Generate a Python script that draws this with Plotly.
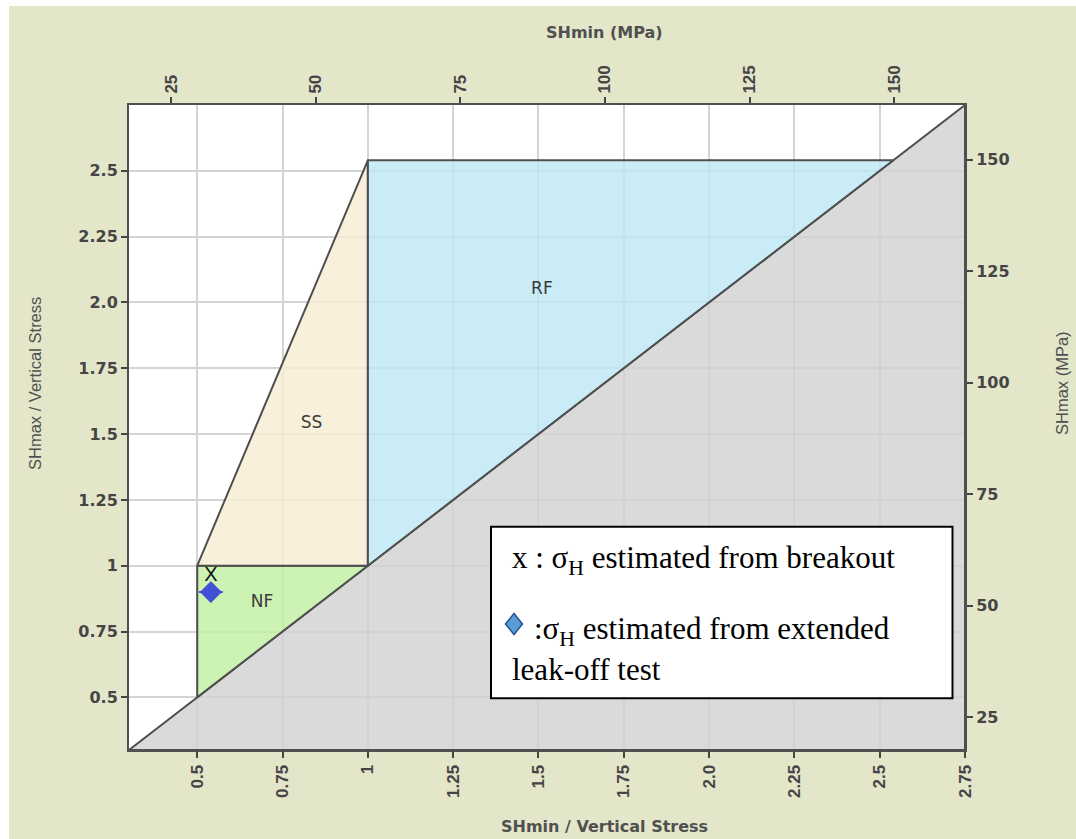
import plotly.graph_objects as go

# Vertical stress used to convert ratios to MPa on the secondary axes
SV_MPA = 59.0

# Axis extent in stress-ratio units
AX_MIN, AX_MAX = 0.3, 2.75

# Stress-regime polygons (SHmin/Sv, SHmax/Sv)
nf_x = [0.5, 0.5, 1.0, 0.5]
nf_y = [0.5, 1.0, 1.0, 0.5]
ss_x = [0.5, 1.0, 1.0, 0.5]
ss_y = [1.0, 2.54, 1.0, 1.0]
rf_x = [1.0, 1.0, 2.54, 1.0]
rf_y = [1.0, 2.54, 2.54, 1.0]
lower_x = [0.3, 2.75, 2.75, 0.3]
lower_y = [0.3, 0.3, 2.75, 0.3]

regime_labels = ["NF", "SS", "RF"]
label_x = [0.69, 0.835, 1.51]
label_y = [0.86, 1.54, 2.05]

# Measured horizontal stress estimates
breakout_x = [0.54]
breakout_y = [0.96]
lot_x = [0.54]
lot_y = [0.90]
lot_err = [0.035]

# Tick values / labels
ratio_x_ticks = [0.5, 0.75, 1.0, 1.25, 1.5, 1.75, 2.0, 2.25, 2.5, 2.75]
ratio_x_text = ["0.5", "0.75", "1", "1.25", "1.5", "1.75", "2.0", "2.25", "2.5", "2.75"]
ratio_y_ticks = [0.5, 0.75, 1.0, 1.25, 1.5, 1.75, 2.0, 2.25, 2.5]
ratio_y_text = ["0.5", "0.75", "1", "1.25", "1.5", "1.75", "2.0", "2.25", "2.5"]
mpa_ticks = [25, 50, 75, 100, 125, 150]

PAGE_BG = "#e3e6c9"
EDGE = "#4f4f4f"
TXT = "#454545"

fig = go.Figure()


def region(xs, ys, fill):
    fig.add_trace(go.Scatter(
        x=xs, y=ys, mode="lines", fill="toself", fillcolor=fill,
        line=dict(color=EDGE, width=2), hoverinfo="skip", showlegend=False,
    ))


region(lower_x, lower_y, "rgba(209,209,209,0.8)")
region(nf_x, nf_y, "rgba(192,240,161,0.8)")
region(ss_x, ss_y, "rgba(246,236,209,0.8)")
region(rf_x, rf_y, "rgba(187,231,244,0.8)")

# regime names
fig.add_trace(go.Scatter(
    x=label_x, y=label_y, mode="text", text=regime_labels,
    textfont=dict(family="DejaVu Sans", size=17, color="#3a3a3a"),
    hoverinfo="skip", showlegend=False,
))

# LOT estimate
fig.add_trace(go.Scatter(
    x=lot_x, y=lot_y, mode="markers",
    marker=dict(symbol="diamond", size=16, color="#4150d6",
                line=dict(color="#3444c8", width=1)),
    error_x=dict(type="data", array=lot_err, width=0, thickness=2, color="#4150d6"),
    hoverinfo="skip", showlegend=False,
))

# breakout estimate
fig.add_trace(go.Scatter(
    x=breakout_x, y=breakout_y, mode="text", text=["X"],
    textfont=dict(family="Liberation Sans", size=20, color="#111111"),
    hoverinfo="skip", showlegend=False,
))

# empty trace to anchor the MPa axes
fig.add_trace(go.Scatter(x=[None], y=[None], xaxis="x2", yaxis="y2", mode="markers",
                         hoverinfo="skip", showlegend=False))

L, R, T, B = 129, 111, 105, 89
W, H = 1076, 839
PW, PH = W - L - R, H - T - B


def px(x):
    return (x - L) / PW


def py(y):
    return (H - B - y) / PH


rot_font = dict(family="Liberation Sans", size=17, color=TXT, weight="bold")
hor_font = dict(family="DejaVu Sans", size=16, color=TXT, weight="bold")

axis_common = dict(showline=True, linecolor=EDGE, linewidth=2,
                   ticks="outside", ticklen=6, tickwidth=1.5, tickcolor=TXT,
                   zeroline=False)

fig.update_layout(
    width=W, height=H,
    margin=dict(l=L, r=R, t=T, b=B),
    paper_bgcolor="white", plot_bgcolor="white",
    showlegend=False,
    xaxis=dict(range=[AX_MIN, AX_MAX], tickvals=ratio_x_ticks, ticktext=ratio_x_text,
               tickangle=-90, tickfont=rot_font, showgrid=True,
               gridcolor="#d5d5d5", gridwidth=1.5, **axis_common),
    yaxis=dict(range=[AX_MIN, AX_MAX], tickvals=ratio_y_ticks, ticktext=ratio_y_text,
               tickfont=hor_font, showgrid=True,
               gridcolor="#d5d5d5", gridwidth=1.5, **axis_common),
    xaxis2=dict(range=[AX_MIN * SV_MPA, AX_MAX * SV_MPA], tickvals=mpa_ticks,
                overlaying="x", side="top", anchor="y", tickangle=-90,
                tickfont=rot_font, showgrid=False, **axis_common),
    yaxis2=dict(range=[AX_MIN * SV_MPA, AX_MAX * SV_MPA], tickvals=mpa_ticks,
                overlaying="y", side="right", anchor="x",
                tickfont=hor_font, showgrid=False, **axis_common),
)

# page background with a thin white strip at top and left
fig.add_shape(type="rect", xref="paper", yref="paper", layer="below",
              x0=px(9), x1=px(W + 20), y0=py(H + 20), y1=py(6),
              fillcolor=PAGE_BG, line=dict(width=0))
fig.add_shape(type="rect", xref="paper", yref="paper", layer="below",
              x0=0, x1=1, y0=0, y1=1, fillcolor="white", line=dict(width=0))

title_h = dict(family="DejaVu Sans", size=16, color="#505050", weight="bold")
title_v = dict(family="Liberation Sans", size=16.5, color="#505050")

annotations = [
    dict(text="SHmin (MPa)", x=px(604), y=py(33), font=title_h),
    dict(text="SHmin / Vertical Stress", x=px(604), y=py(827), font=title_h),
    dict(text="SHmax / Vertical Stress", x=px(35), y=py(384), font=title_v, textangle=-90),
    dict(text="SHmax (MPa)", x=px(1062), y=py(383), font=title_v, textangle=-90),
]
for a in annotations:
    a.update(xref="paper", yref="paper", showarrow=False,
             xanchor="center", yanchor="middle")
    fig.add_annotation(**a)

# key box
fig.add_shape(type="rect", xref="paper", yref="paper", layer="above",
              x0=px(491), x1=px(952.5), y0=py(698.3), y1=py(526.7),
              fillcolor="white", line=dict(color="black", width=2))

key_font = dict(family="Liberation Serif", size=31, color="black")
key_lines = [
    ("x : σ<sub>H</sub> estimated from breakout", 510, 560),
    (":σ<sub>H</sub> estimated from extended", 532, 631),
    ("leak-off test", 510, 669),
]
for text, kx, ky in key_lines:
    fig.add_annotation(text=text, x=px(kx), y=py(ky), xref="paper", yref="paper",
                       xanchor="left", yanchor="middle", showarrow=False,
                       font=key_font)

# diamond glyph in the key
cx, cy = px(514), py(624)
dx, dy = 8.5 / PW, 10.5 / PH
fig.add_shape(type="path", xref="paper", yref="paper", layer="above",
              path=f"M {cx},{cy + dy} L {cx + dx},{cy} L {cx},{cy - dy} L {cx - dx},{cy} Z",
              fillcolor="#5b9bd5", line=dict(color="#24558f", width=1.5))

fig.write_html("out.html")
